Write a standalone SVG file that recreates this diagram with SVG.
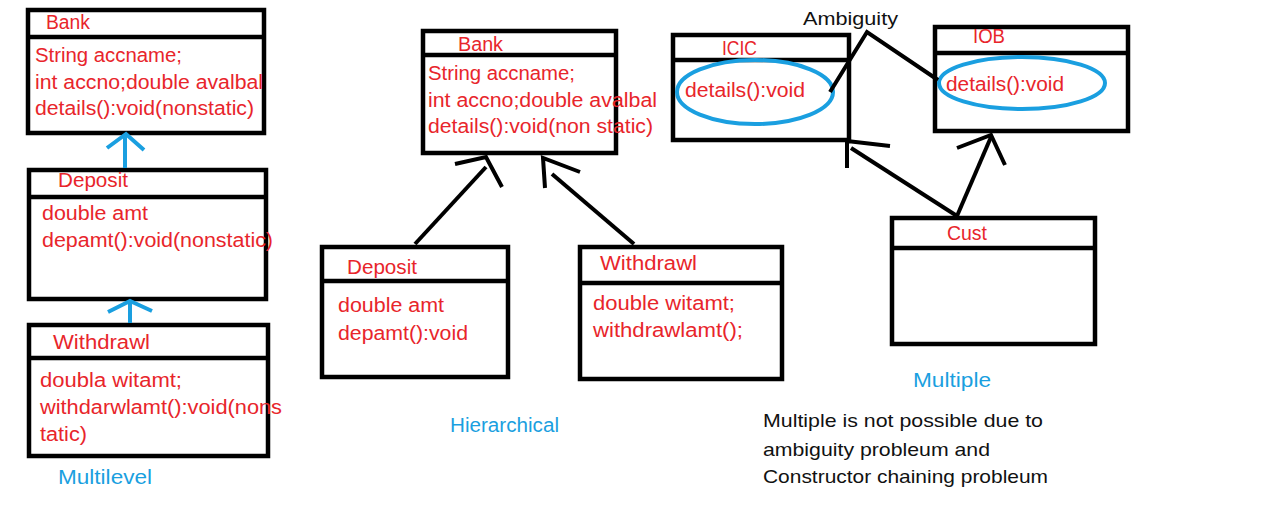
<svg xmlns="http://www.w3.org/2000/svg" width="1280" height="525" viewBox="0 0 1280 525">
<style>
.box{fill:none;stroke:#000;stroke-width:4.5}
.hl{stroke:#000;stroke-width:4.5}
.r{font-family:"Liberation Sans",Arial,sans-serif;font-size:20px;fill:#e8252b}
.b{font-family:"Liberation Sans",Arial,sans-serif;font-size:20px;fill:#1a9fe0}
.k{font-family:"Liberation Sans",Arial,sans-serif;font-size:19px;fill:#111}
.bl{fill:none;stroke:#1a9fe0;stroke-width:4;stroke-linecap:butt}
.ln{fill:none;stroke:#000;stroke-width:4;stroke-linecap:butt}
.ov{fill:none;stroke:#1a9fe0;stroke-width:4}
</style>
<rect width="1280" height="525" fill="#fff"/>

<!-- Multilevel -->
<g id="ml-bank">
<rect class="box" x="28" y="10" width="236" height="123"/>
<line class="hl" x1="28" y1="37" x2="264" y2="37"/>
<text class="r" x="46" y="29" textLength="44" lengthAdjust="spacingAndGlyphs">Bank</text>
<text class="r" x="35" y="62" textLength="147" lengthAdjust="spacingAndGlyphs">String accname;</text>
<text class="r" x="35" y="89" textLength="228" lengthAdjust="spacingAndGlyphs">int accno;double avalbal</text>
<text class="r" x="35" y="115" textLength="219" lengthAdjust="spacingAndGlyphs">details():void(nonstatic)</text>
</g>
<g id="ml-deposit">
<rect class="box" x="29" y="170" width="237" height="129"/>
<line class="hl" x1="29" y1="197" x2="266" y2="197"/>
<text class="r" x="58" y="187" textLength="70" lengthAdjust="spacingAndGlyphs">Deposit</text>
<text class="r" x="42" y="220" textLength="106" lengthAdjust="spacingAndGlyphs">double amt</text>
<text class="r" x="42" y="247" textLength="231" lengthAdjust="spacingAndGlyphs">depamt():void(nonstatic)</text>
</g>
<g id="ml-withdrawl">
<rect class="box" x="29" y="325" width="239" height="131"/>
<line class="hl" x1="29" y1="358" x2="268" y2="358"/>
<text class="r" x="53" y="349" textLength="97" lengthAdjust="spacingAndGlyphs">Withdrawl</text>
<text class="r" x="40" y="387" textLength="142" lengthAdjust="spacingAndGlyphs">doubla witamt;</text>
<text class="r" x="40" y="414" textLength="242" lengthAdjust="spacingAndGlyphs">withdarwlamt():void(nons</text>
<text class="r" x="40" y="441" textLength="47" lengthAdjust="spacingAndGlyphs">tatic)</text>
</g>
<text class="b" x="58" y="484" textLength="94" lengthAdjust="spacingAndGlyphs">Multilevel</text>

<!-- Hierarchical -->
<g id="h-bank">
<rect class="box" x="423" y="31" width="193" height="122"/>
<line class="hl" x1="423" y1="55" x2="618" y2="55"/>
<text class="r" x="458" y="51" textLength="45" lengthAdjust="spacingAndGlyphs">Bank</text>
<text class="r" x="428" y="80" textLength="147" lengthAdjust="spacingAndGlyphs">String accname;</text>
<text class="r" x="428" y="107" textLength="229" lengthAdjust="spacingAndGlyphs">int accno;double avalbal</text>
<text class="r" x="428" y="133" textLength="225" lengthAdjust="spacingAndGlyphs">details():void(non static)</text>
</g>
<g id="h-deposit">
<rect class="box" x="322" y="247" width="186" height="130"/>
<line class="hl" x1="322" y1="281" x2="508" y2="281"/>
<text class="r" x="347" y="274" textLength="70" lengthAdjust="spacingAndGlyphs">Deposit</text>
<text class="r" x="338" y="312" textLength="106" lengthAdjust="spacingAndGlyphs">double amt</text>
<text class="r" x="338" y="340" textLength="130" lengthAdjust="spacingAndGlyphs">depamt():void</text>
</g>
<g id="h-withdrawl">
<rect class="box" x="580" y="247" width="202" height="132"/>
<line class="hl" x1="580" y1="283" x2="782" y2="283"/>
<text class="r" x="600" y="270" textLength="97" lengthAdjust="spacingAndGlyphs">Withdrawl</text>
<text class="r" x="593" y="310" textLength="142" lengthAdjust="spacingAndGlyphs">double witamt;</text>
<text class="r" x="593" y="337" textLength="150" lengthAdjust="spacingAndGlyphs">withdrawlamt();</text>
</g>
<text class="b" x="450" y="432" textLength="109" lengthAdjust="spacingAndGlyphs">Hierarchical</text>

<!-- Multiple -->
<g id="icic">
<rect class="box" x="673" y="35" width="176" height="105"/>
<line class="hl" x1="673" y1="60" x2="849" y2="60"/>
<text class="r" x="722" y="55" textLength="35" lengthAdjust="spacingAndGlyphs">ICIC</text>
<ellipse class="ov" cx="755" cy="92" rx="78" ry="32"/>
<text class="r" x="685" y="97" textLength="120" lengthAdjust="spacingAndGlyphs">details():void</text>
</g>
<g id="iob">
<rect class="box" x="935" y="27" width="193" height="104"/>
<line class="hl" x1="935" y1="53" x2="1128" y2="53"/>
<text class="r" x="973" y="43" textLength="32" lengthAdjust="spacingAndGlyphs">IOB</text>
<ellipse class="ov" cx="1022" cy="83" rx="83" ry="26"/>
<text class="r" x="946" y="91" textLength="118" lengthAdjust="spacingAndGlyphs">details():void</text>
</g>
<g id="cust">
<rect class="box" x="892" y="218" width="203" height="126"/>
<line class="hl" x1="892" y1="248" x2="1095" y2="248"/>
<text class="r" x="947" y="240" textLength="40" lengthAdjust="spacingAndGlyphs">Cust</text>
</g>
<text class="k" x="803" y="25" textLength="95" lengthAdjust="spacingAndGlyphs">Ambiguity</text>
<text class="b" x="913" y="387" textLength="78" lengthAdjust="spacingAndGlyphs">Multiple</text>
<g id="note">
<text class="k" x="763" y="427" textLength="280" lengthAdjust="spacingAndGlyphs">Multiple is not possible due to</text>
<text class="k" x="763" y="456" textLength="227" lengthAdjust="spacingAndGlyphs">ambiguity probleum and</text>
<text class="k" x="763" y="483" textLength="285" lengthAdjust="spacingAndGlyphs">Constructor chaining probleum</text>
</g>

<g id="connectors">
<line class="bl" x1="125" y1="168" x2="125" y2="134"/>
<polyline class="bl" points="107,148 126,134 144,150"/>
<line class="bl" x1="130" y1="323" x2="130" y2="301"/>
<polyline class="bl" points="108,312 130,301 152,311"/>
<line class="ln" x1="415" y1="244" x2="486" y2="167"/>
<polyline class="ln" points="455,164 486,157 502,187"/>
<line class="ln" x1="634" y1="244" x2="552" y2="174"/>
<polyline class="ln" points="545,188 543,158 580,172"/>
<polyline class="ln" points="830,92 867,32 938,80"/>
<line class="ln" x1="957" y1="216" x2="851" y2="148"/>
<polyline class="ln" points="847,168 847,141 890,146"/>
<line class="ln" x1="957" y1="216" x2="991" y2="137"/>
<polyline class="ln" points="957,148 991,135 1005,165"/>
</g>
</svg>
